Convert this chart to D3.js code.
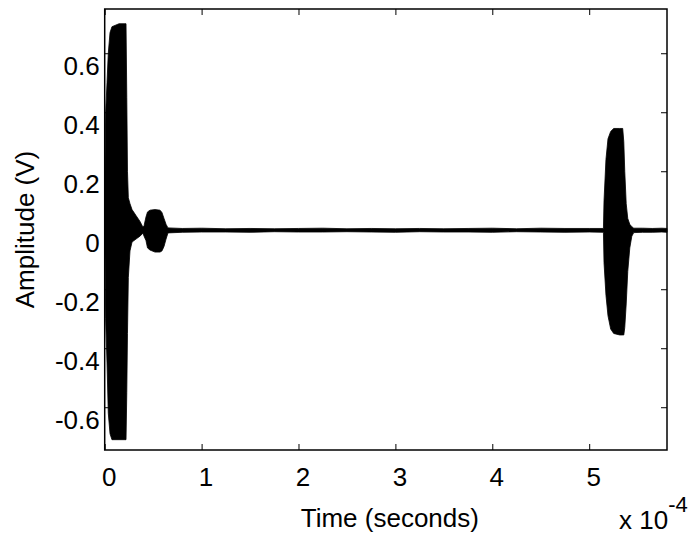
<!DOCTYPE html>
<html>
<head>
<meta charset="utf-8">
<script src="https://cdn.jsdelivr.net/npm/d3@7"></script>
<style>
  body { margin: 0; background: #fff; }
  svg text { font-family: "Liberation Sans", Arial, sans-serif; fill: #000; }
</style>
</head>
<body>
<script>
// envelope of the recorded signal, time in units of 1e-4 s
var timeE4 = [0.000, 0.004, 0.010, 0.024, 0.037, 0.055, 0.075, 0.148, 0.220, 0.228, 0.235, 0.244,
  0.261, 0.282, 0.323, 0.364, 0.395, 0.406, 0.426, 0.442, 0.467, 0.519, 0.571, 0.591, 0.612,
  0.633, 0.653, 0.80, 1.00, 1.25, 1.50, 1.75, 2.00, 2.25, 2.50, 2.75, 3.00, 3.25, 3.50, 3.75,
  4.00, 4.25, 4.50, 4.75, 5.00, 5.147, 5.153, 5.173, 5.194, 5.222, 5.253, 5.315, 5.346,
  5.357, 5.367, 5.382, 5.398, 5.419, 5.440, 5.460, 5.55, 5.65, 5.75, 5.803];
var upperV = [0.00, 0.24, 0.40, 0.50, 0.60, 0.67, 0.69, 0.70, 0.70, 0.45, 0.20, 0.11,
  0.09, 0.07, 0.05, 0.03, 0.010, 0.015, 0.045, 0.062, 0.068, 0.070, 0.068, 0.060, 0.040,
  0.020, 0.008, 0.006, 0.007, 0.005, 0.006, 0.005, 0.006, 0.007, 0.005, 0.006, 0.005, 0.006, 0.005, 0.006,
  0.007, 0.005, 0.007, 0.006, 0.006, 0.006, 0.100, 0.240, 0.310, 0.335, 0.345, 0.345, 0.345,
  0.300, 0.200, 0.090, 0.040, 0.020, 0.012, 0.007, 0.007, 0.006, 0.007, 0.006];
var lowerV = [0.00, -0.10, -0.30, -0.45, -0.62, -0.69, -0.71, -0.71, -0.71, -0.55, -0.35, -0.16,
  -0.07, -0.04, -0.03, -0.02, -0.010, -0.020, -0.035, -0.060, -0.067, -0.074, -0.074, -0.070, -0.055,
  -0.030, -0.009, -0.007, -0.006, -0.006, -0.007, -0.005, -0.006, -0.006, -0.005, -0.006, -0.007, -0.005, -0.006, -0.006,
  -0.007, -0.005, -0.006, -0.007, -0.006, -0.007, -0.110, -0.220, -0.290, -0.335, -0.350, -0.355, -0.355,
  -0.355, -0.330, -0.250, -0.140, -0.060, -0.020, -0.008, -0.007, -0.007, -0.006, -0.007];

var xTicks = [0, 1, 2, 3, 4, 5];
var yTicks = [-0.6, -0.4, -0.2, 0, 0.2, 0.4, 0.6];

function main() {
  var W = 692, H = 538;
  var left = 104.7, right = 667, top = 9, bottom = 450;

  var svg = d3.select("body").append("svg")
    .attr("width", W)
    .attr("height", H);

  var x = d3.scaleLinear().domain([0, 5.803]).range([left, right]);
  var y = d3.scaleLinear().domain([-0.745, 0.75]).range([bottom, top]);

  var pts = timeE4.map(function (t, i) {
    return { t: t, hi: upperV[i], lo: lowerV[i] };
  });

  // signal drawn as its envelope
  var area = d3.area()
    .x(function (d) { return x(d.t); })
    .y0(function (d) { return y(d.lo); })
    .y1(function (d) { return y(d.hi); });

  svg.append("path")
    .datum(pts)
    .attr("d", area)
    .attr("fill", "#000")
    .attr("stroke", "#000")
    .attr("stroke-width", 0.8);

  var fmtY = function (d) { return d === 0 ? "0" : d.toFixed(1); };

  // axes with inward ticks
  var gl = svg.append("g")
    .attr("transform", "translate(" + left + ",0)")
    .call(d3.axisLeft(y).tickValues(yTicks).tickSize(-6).tickPadding(5).tickFormat(fmtY));
  gl.selectAll("text").attr("font-size", 26).attr("dy", "0.32em").attr("y", 13);

  var gb = svg.append("g")
    .attr("transform", "translate(0," + bottom + ")")
    .call(d3.axisBottom(x).tickValues(xTicks).tickSize(-6).tickPadding(18).tickFormat(d3.format("d")));
  gb.selectAll("text").attr("font-size", 26).attr("dx", 4);

  svg.append("g")
    .attr("transform", "translate(" + right + ",0)")
    .call(d3.axisRight(y).tickValues(yTicks).tickSize(-6).tickFormat(""));
  svg.append("g")
    .attr("transform", "translate(0," + top + ")")
    .call(d3.axisTop(x).tickValues(xTicks).tickSize(-6).tickFormat(""));

  svg.selectAll(".domain").remove();
  svg.selectAll(".tick line").attr("stroke", "#000").attr("stroke-width", 1);

  svg.append("rect")
    .attr("x", left).attr("y", top)
    .attr("width", right - left).attr("height", bottom - top)
    .attr("fill", "none").attr("stroke", "#000").attr("stroke-width", 1.5);

  // labels
  svg.append("text")
    .attr("x", (left + right) / 2 + 4)
    .attr("y", 527)
    .attr("text-anchor", "middle")
    .attr("font-size", 26)
    .text("Time (seconds)");

  svg.append("text")
    .attr("transform", "translate(34," + ((top + bottom) / 2) + ") rotate(-90)")
    .attr("text-anchor", "middle")
    .attr("font-size", 26)
    .text("Amplitude (V)");

  var ex = svg.append("text")
    .attr("x", 619)
    .attr("y", 529)
    .attr("font-size", 26);
  ex.append("tspan").text("x 10");
  ex.append("tspan").attr("dy", -17).attr("font-size", 22).text("-4");
}
document.addEventListener("DOMContentLoaded", main);
</script>
</body>
</html>
